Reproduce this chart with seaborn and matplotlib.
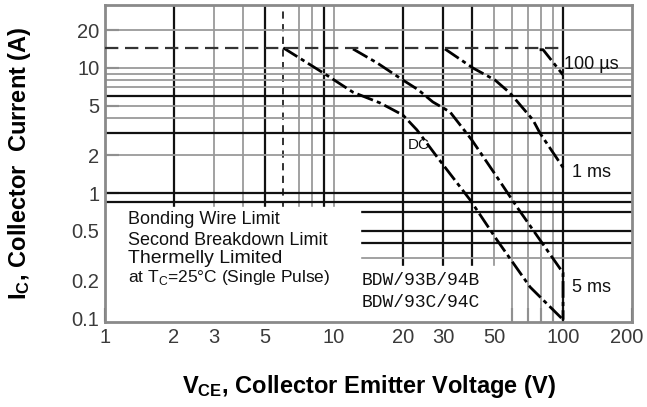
"""
Safe operating area (SOA) chart for BDW93/94 — recreated from the datasheet scan.
Log-log, I_C vs V_CE, with DC / 5 ms / 1 ms / 100 us limit curves.
"""
import matplotlib
matplotlib.use("Agg")
import matplotlib.pyplot as plt
from matplotlib.patches import Rectangle
import pandas as pd
import seaborn as sns

# limit curves (V_CE in V, I_C in A)
DC_V = [6.0, 9.0, 12.1, 15.9, 20.0, 23.0, 28.2, 39.3, 51.5, 71.8, 100.0]
DC_I = [14.5, 9.1, 6.4, 5.25, 4.2, 3.2, 1.94, 0.88, 0.42, 0.177, 0.097]
MS5_V = [12.1, 15.4, 20.0, 23.3, 27.0, 32.1, 40.0, 51.5, 63.0, 79.4, 100.0, 100.0]
MS5_I = [14.2, 11.0, 8.0, 6.7, 5.35, 4.45, 2.65, 1.34, 0.77, 0.42, 0.23, 0.097]
MS1_V = [30.5, 40.4, 50.5, 58.7, 73.9, 79.4, 100.0]
MS1_I = [14.2, 10.0, 8.0, 6.3, 3.84, 3.0, 1.6]
US100_V = [79.0, 81.8, 100.0]
US100_I = [14.0, 14.0, 8.8]
BOND_V = [1.0, 100.0]
BOND_I = [14.5, 14.5]

# graph paper lines of the scan
VGRID_DARK = [2, 5, 9, 20, 30, 40, 100]
VGRID_LIGHT = [3, 4, 7, 8, 10, 50, 60, 70, 80, 90]
VGRID_DASH = [6]
HGRID_DARK = [6, 3, 1, 0.85, 0.7, 0.5, 0.4]
HGRID_LIGHT = [20, 10, 9, 8, 7, 5, 4, 2, 0.3]

XTICKS = [1, 2, 3, 5, 10, 20, 30, 50, 100, 200]
XLABELS = ["1", "2", "3", "5", "10", "20", "30", "50", "100", ""]
XMINOR = [4, 6, 7, 8, 9, 40, 60, 70, 80, 90]
YTICKS = [0.1, 0.2, 0.5, 1, 2, 5, 10, 20]
YLABELS = ["0.1", "0.2", "0.5", "1", "2", "5", "10", "20"]
YMINOR = [0.3, 0.4, 0.6]

sns.set_theme(style="white")
plt.rcParams["font.family"] = ["Liberation Sans", "DejaVu Sans"]
plt.rcParams["mathtext.fontset"] = "custom"
plt.rcParams["mathtext.rm"] = "Liberation Sans"
plt.rcParams["mathtext.bf"] = "Liberation Sans:bold"

curves = pd.concat([
    pd.DataFrame({"V": DC_V, "I": DC_I, "curve": "DC"}),
    pd.DataFrame({"V": MS5_V, "I": MS5_I, "curve": "5 ms"}),
    pd.DataFrame({"V": MS1_V, "I": MS1_I, "curve": "1 ms"}),
])

DASHDOT = (0, (6, 1.5, 1.5, 1.5))
INK = "#111111"
TICK_INK = "#3a3a3a"


def main() -> None:
    fig = plt.figure(figsize=(6.47, 4.07), dpi=100)
    ax = fig.add_axes([105 / 647, 85 / 407, 527 / 647, 317 / 407])
    ax.set_xscale("log"); ax.set_yscale("log")
    ax.set_xlim(1, 200); ax.set_ylim(0.093, 31.9)

    for v in VGRID_DARK:
        ax.axvline(v, color=INK, lw=1.6, zorder=1)
    for v in VGRID_LIGHT:
        ax.axvline(v, color="#9a9a9a", lw=1.3, zorder=1)
    for v in VGRID_DASH:
        ax.axvline(v, color="#222222", lw=1.3, ls=(0, (4, 3)), zorder=1)
    for h in HGRID_DARK:
        ax.axhline(h, color=INK, lw=1.6, zorder=1)
    for h in HGRID_LIGHT:
        ax.axhline(h, color="#9a9a9a", lw=1.3, zorder=1)

    # blank areas behind the legend text and the part numbers
    ax.add_patch(Rectangle((1, 0.08), 12, 0.69, color="white", zorder=1.5))
    ax.add_patch(Rectangle((13, 0.08), 43, 0.18, color="white", zorder=1.5))

    sns.lineplot(data=curves, x="V", y="I", units="curve", estimator=None,
                 sort=False, color="black", lw=2.0, ax=ax, zorder=3,
                 dashes=False, linestyle=DASHDOT)
    sns.lineplot(x=US100_V, y=US100_I, sort=False, color="black", lw=2.0,
                 ax=ax, zorder=3, linestyle=DASHDOT)
    sns.lineplot(x=BOND_V, y=BOND_I, sort=False, color="#333333", lw=1.6,
                 ax=ax, zorder=3, linestyle=(0, (6, 3)))

    ax.set_xticks(XTICKS)
    ax.set_xticklabels(XLABELS)
    ax.set_xticks(XMINOR, minor=True)
    ax.set_xticklabels([], minor=True)
    ax.set_yticks(YTICKS)
    ax.set_yticklabels(YLABELS)
    ax.set_yticks(YMINOR, minor=True)
    ax.set_yticklabels([], minor=True)
    ax.tick_params(axis="both", which="both", direction="in", colors=TICK_INK,
                   labelsize=14.5, length=10, width=1.5)
    ax.tick_params(axis="x", which="both", pad=4, bottom=True)
    ax.tick_params(axis="y", which="both", pad=4, left=True)
    # last x label sits a little left of the frame corner in the scan
    ax.annotate("200", xy=(200, 0), xycoords=("data", "axes fraction"),
                xytext=(-4, -4), textcoords="offset points", ha="center",
                va="top", fontsize=14.5, color=TICK_INK)
    for s in ax.spines.values():
        s.set_color("#8a8a8a"); s.set_linewidth(2)

    ax.text(101, 10.6, "100 µs", fontsize=13, va="center", color=INK)
    ax.text(109, 1.45, "1 ms", fontsize=13, va="center", color=INK)
    ax.text(109, 0.177, "5 ms", fontsize=13, va="center", color=INK)
    ax.text(21, 2.42, "DC", fontsize=11, va="center", color=INK)
    ax.text(13.2, 0.2, "BDW/93B/94B", fontsize=13, va="center",
            family="Liberation Mono", color=INK)
    ax.text(13.2, 0.132, "BDW/93C/94C", fontsize=13, va="center",
            family="Liberation Mono", color=INK)

    ax.text(1.26, 0.61, "Bonding Wire Limit", fontsize=13, va="center", color=INK)
    ax.text(1.26, 0.42, "Second Breakdown Limit", fontsize=13, va="center", color=INK)
    ax.text(1.26, 0.30, "Thermelly Limited", fontsize=14, va="center", color=INK)
    ax.text(1.26, 0.21, r"at T$_\mathrm{C}$=25°C (Single Pulse)", fontsize=12.5,
            va="center", color=INK)

    ax.set_xlabel(r"$\mathbf{V_{CE}}$, Collector Emitter Voltage (V)",
                  fontsize=17, fontweight="bold", color="black")
    ax.xaxis.set_label_coords(0.5, -0.16)
    ax.set_ylabel(r"$\mathbf{I_{C}}$, Collector  Current (A)",
                  fontsize=17, fontweight="bold", color="black")
    ax.yaxis.set_label_coords(-0.136, 0.5)

    fig.savefig("out.png", dpi=100)
    plt.close(fig)


if __name__ == "__main__":
    main()
